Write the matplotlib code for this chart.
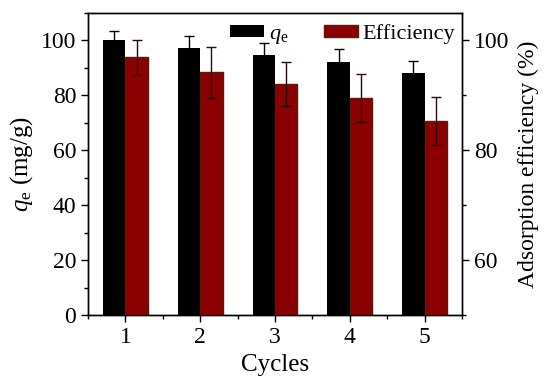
import matplotlib.pyplot as plt
from matplotlib.ticker import MultipleLocator
import numpy as np

plt.rcParams["font.family"] = ["Liberation Serif", "DejaVu Serif"]
plt.rcParams["mathtext.fontset"] = "custom"
plt.rcParams["mathtext.rm"] = "Liberation Serif"
plt.rcParams["mathtext.it"] = "Liberation Serif:italic"

# data
cycles = [1, 2, 3, 4, 5]
qe = [100.0, 97.2, 94.8, 92.1, 88.1]
qe_err = [3.6, 4.3, 4.4, 4.6, 4.3]
eff = [96.9, 94.2, 92.1, 89.5, 85.3]
eff_err = [3.2, 4.6, 4.0, 4.3, 4.4]

x = np.array(cycles)
w = 0.3

fig = plt.figure(figsize=(5.5, 3.92), dpi=100)
ax = fig.add_axes([0.16, 0.196, 0.68, 0.771])
ax2 = ax.twinx()

b1 = ax.bar(x - w / 2, qe, w, color="black", yerr=qe_err,
            error_kw=dict(ecolor="black", elinewidth=1, capsize=3.5, capthick=1),
            zorder=2)
b2 = ax2.bar(x + w / 2, eff, w, color="#8B0000", edgecolor="#5A1A0A",
             linewidth=1, yerr=eff_err,
             error_kw=dict(ecolor="#2a0a05", elinewidth=1, capsize=3.5, capthick=1),
             zorder=2)

ax.set_xlim(0.5, 5.5)
ax.set_ylim(0, 110)
ax2.set_ylim(50, 105)
ax.set_xticks(cycles)
ax.xaxis.set_minor_locator(MultipleLocator(0.5))
ax.yaxis.set_major_locator(MultipleLocator(20))
ax.yaxis.set_minor_locator(MultipleLocator(10))
ax2.yaxis.set_major_locator(MultipleLocator(20))
ax2.yaxis.set_minor_locator(MultipleLocator(10))

for a in (ax, ax2):
    a.tick_params(which="major", length=5, width=1, labelsize=17, direction="out")
    a.tick_params(which="minor", length=3, width=1, direction="out")
    for s in a.spines.values():
        s.set_linewidth(1)

ax.set_xlabel("Cycles", fontsize=18, labelpad=4)
ax.set_ylabel("$q_\\mathrm{e}$ (mg/g)", fontsize=18, labelpad=4)
ax2.set_ylabel("Adsorption efficiency (%)", fontsize=17, labelpad=6)

ax.legend([b1, b2], ["$q_\\mathrm{e}$", "Efficiency"], ncol=2, loc="upper right",
          bbox_to_anchor=(1.012, 1.0),
          frameon=False, fontsize=16, handlelength=1.55, handleheight=0.5,
          columnspacing=1.6, handletextpad=0.2, borderaxespad=0.1)

fig.savefig("out.png", dpi=100)
